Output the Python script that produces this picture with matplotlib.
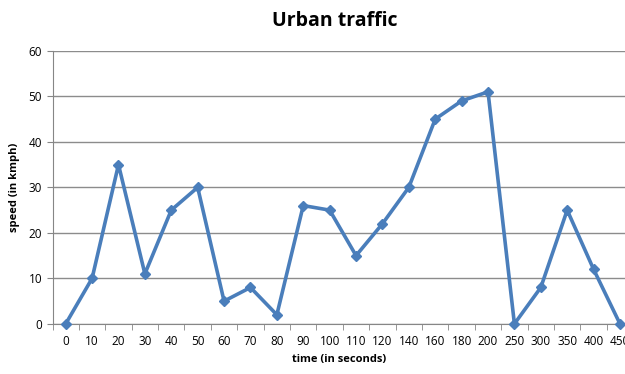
import matplotlib
matplotlib.use("Agg")
from matplotlib import pyplot as plt
import numpy as np

times = ["0", "10", "20", "30", "40", "50", "60", "70", "80", "90", "100", "110",
         "120", "140", "160", "180", "200", "250", "300", "350", "400", "450"]
speed = [0, 10, 35, 11, 25, 30, 5, 8, 2, 26, 25, 15,
         22, 30, 45, 49, 51, 0, 8, 25, 12, 0]

plt.rcParams['font.family'] = ['Open Sans', 'DejaVu Sans']

fig = plt.figure(figsize=(6.25, 3.74), dpi=100)
ax = fig.add_axes([0.084, 0.134, 0.916, 0.73])

x = np.arange(len(times))
ax.plot(x, speed, color='#4A7EBB', linewidth=2.6, marker='D', markersize=5.5,
        clip_on=False, zorder=3)

ax.set_ylim(0, 60)
ax.set_yticks(range(0, 61, 10))
ax.set_xlim(-0.5, 21.19)
ax.set_xticks(x)
ax.set_xticklabels(times, fontsize=8.5)
ax.set_xticks(np.arange(-0.5, 21.5, 1), minor=True)
ax.tick_params(axis='x', which='major', length=0, pad=8)
ax.tick_params(axis='x', which='minor', length=4, color='#868686')
ax.tick_params(axis='y', length=4, color='#868686', labelsize=8.5)

ax.yaxis.grid(True, color='#8C8C8C', linewidth=1)
ax.set_axisbelow(True)
for s in ['top', 'right']:
    ax.spines[s].set_visible(False)
ax.spines['left'].set_color('#868686')
ax.spines['bottom'].set_color('#868686')

ax.set_xlabel('time (in seconds)', fontsize=8, fontweight='bold', labelpad=4)
ax.set_ylabel('speed (in kmph)', fontsize=8, fontweight='bold', labelpad=6)
fig.text(0.535, 0.945, 'Urban traffic', ha='center', va='center',
         fontsize=14, fontweight='bold')

plt.savefig('out.png', dpi=100)
